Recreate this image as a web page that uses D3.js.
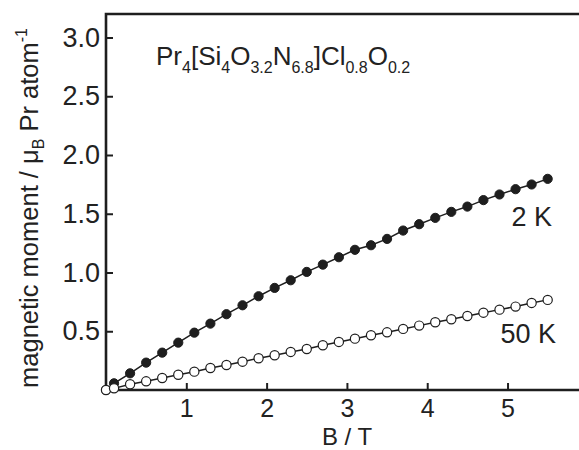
<!DOCTYPE html>
<html>
<head>
<meta charset="utf-8">
<script src="https://cdn.jsdelivr.net/npm/d3@7"></script>
<style>
  html, body { margin: 0; padding: 0; background: #fff; }
  svg { display: block; }
  text { font-family: "Liberation Sans", Arial, Helvetica, sans-serif; fill: #222; }
</style>
</head>
<body>
<svg id="chart" width="579" height="450"></svg>
<script>
// ---- data ----
const fieldB = [0, 0.1, 0.3, 0.5, 0.7, 0.9, 1.1, 1.3, 1.5, 1.7, 1.9, 2.1, 2.3, 2.5, 2.7, 2.9,
                3.1, 3.3, 3.5, 3.7, 3.9, 4.1, 4.3, 4.5, 4.7, 4.9, 5.1, 5.3, 5.5];
const moment2K = [0, 0.057, 0.142, 0.233, 0.318, 0.403, 0.488, 0.565, 0.645, 0.721, 0.798, 0.869,
                  0.934, 1.005, 1.067, 1.130, 1.193, 1.232, 1.286, 1.357, 1.411, 1.465, 1.516,
                  1.561, 1.616, 1.664, 1.709, 1.749, 1.797];
const moment50K = [0, 0.014, 0.049, 0.074, 0.102, 0.130, 0.156, 0.187, 0.213, 0.241, 0.270, 0.296,
                   0.324, 0.349, 0.381, 0.409, 0.437, 0.466, 0.491, 0.520, 0.548, 0.577, 0.602,
                   0.630, 0.658, 0.684, 0.710, 0.741, 0.767];
const xTicks = [1, 2, 3, 4, 5];
const yTicks = [0.5, 1.0, 1.5, 2.0, 2.5, 3.0];
const seriesLabels = ["2 K", "50 K"];

// ---- layout ----
const svg = d3.select("#chart");
const padL = 106, padR = 579, padT = 14, padB = 390;
const x = d3.scaleLinear().domain([0, 5.89]).range([padL, padR]);
const y = d3.scaleLinear().domain([0, 3.2]).range([padB, padT]);
const ink = "#1e1e1e";

// axes
const xAxis = d3.axisBottom(x).tickValues(xTicks).tickFormat(d3.format("d"))
  .tickSizeInner(-7).tickSizeOuter(0).tickPadding(9);
const gx = svg.append("g").attr("transform", `translate(0,${padB})`).call(xAxis);
gx.select(".domain").remove();
gx.selectAll(".tick line").attr("stroke", ink).attr("stroke-width", 2);
gx.selectAll(".tick text").attr("font-size", 25).attr("fill", "#222")
  .attr("font-family", "Liberation Sans, Arial, sans-serif");

const yAxis = d3.axisLeft(y).tickValues(yTicks).tickFormat(d3.format(".1f"))
  .tickSizeInner(-7).tickSizeOuter(0).tickPadding(6);
const gy = svg.append("g").attr("transform", `translate(${padL},0)`).call(yAxis);
gy.select(".domain").remove();
gy.selectAll(".tick line").attr("stroke", ink).attr("stroke-width", 2);
gy.selectAll(".tick text").attr("font-size", 27).attr("fill", "#222")
  .attr("font-family", "Liberation Sans, Arial, sans-serif");

// frame (left, top, bottom)
svg.append("path")
  .attr("d", `M${padR},${padT}H${padL}V${padB}H${padR}`)
  .attr("fill", "none").attr("stroke", ink).attr("stroke-width", 2.6);

// series
const line = d3.line().x(d => x(d[0])).y(d => y(d[1]));
const data2K = fieldB.map((b, i) => [b, moment2K[i]]);
const data50K = fieldB.map((b, i) => [b, moment50K[i]]);

svg.append("path").datum(data2K).attr("d", line)
  .attr("fill", "none").attr("stroke", ink).attr("stroke-width", 1.5);
svg.append("path").datum(data50K).attr("d", line)
  .attr("fill", "none").attr("stroke", ink).attr("stroke-width", 1.5);

svg.append("g").selectAll("circle").data(data2K).join("circle")
  .attr("cx", d => x(d[0])).attr("cy", d => y(d[1])).attr("r", 4.6)
  .attr("fill", ink).attr("stroke", ink).attr("stroke-width", 1);
svg.append("g").selectAll("circle").data(data50K).join("circle")
  .attr("cx", d => x(d[0])).attr("cy", d => y(d[1])).attr("r", 4.6)
  .attr("fill", "#fff").attr("stroke", ink).attr("stroke-width", 1.2);

// series labels
svg.append("text").attr("x", 552).attr("y", 226).attr("text-anchor", "end")
  .attr("font-size", 27).text(seriesLabels[0]);
svg.append("text").attr("x", 556).attr("y", 343).attr("text-anchor", "end")
  .attr("font-size", 27).text(seriesLabels[1]);

// title formula with subscripts
const title = svg.append("text").attr("x", 156).attr("y", 65).attr("font-size", 26);
const parts = [["Pr", 0], ["4", 1], ["[Si", 0], ["4", 1], ["O", 0], ["3.2", 1], ["N", 0], ["6.8", 1],
               ["]Cl", 0], ["0.8", 1], ["O", 0], ["0.2", 1]];
let prevSub = false;
parts.forEach(([t, sub]) => {
  const ts = title.append("tspan").text(t);
  if (sub) { ts.attr("font-size", 16).attr("dy", prevSub ? 0 : 8); }
  else { ts.attr("dy", prevSub ? -8 : 0); }
  prevSub = !!sub;
});

// x axis label
svg.append("text").attr("x", 347).attr("y", 444.5).attr("text-anchor", "middle")
  .attr("font-size", 24).text("B / T");

// y axis label (rotated)
const yl = svg.append("text")
  .attr("transform", "translate(38,208) rotate(-90)")
  .attr("text-anchor", "middle").attr("font-size", 25.5);
yl.append("tspan").text("magnetic moment / \u03BC");
yl.append("tspan").attr("font-size", 16).attr("dy", 6).text("B");
yl.append("tspan").attr("dy", -6).text(" Pr atom");
yl.append("tspan").attr("font-size", 16).attr("dy", -11).text("-1");
</script>
</body>
</html>
